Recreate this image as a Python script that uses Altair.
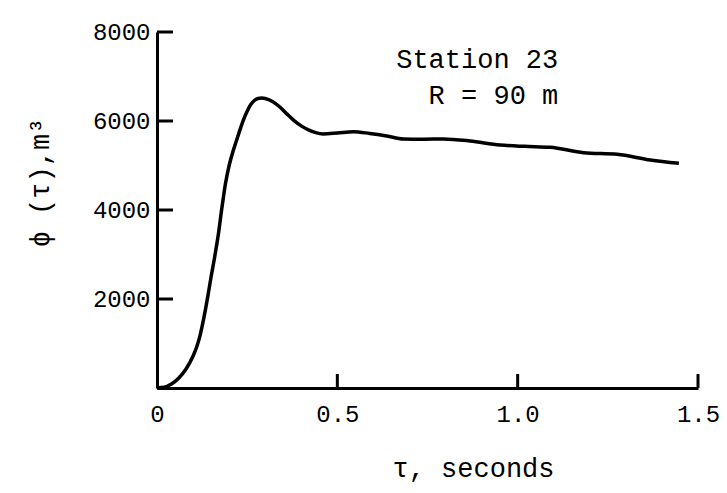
import altair as alt
import pandas as pd

# Curve
tau = [0.0, 0.02, 0.04, 0.06, 0.08, 0.10, 0.11, 0.12, 0.13, 0.14, 0.15, 0.16, 0.17,
       0.18, 0.19, 0.20, 0.21, 0.22, 0.23, 0.24, 0.25, 0.26, 0.27, 0.28, 0.29,
       0.30, 0.32, 0.34, 0.36, 0.38, 0.40, 0.42, 0.44, 0.46, 0.50, 0.544, 0.59,
       0.637, 0.683, 0.74, 0.794, 0.868, 0.951, 1.02, 1.09, 1.183, 1.276, 1.368, 1.447]
phi = [0, 15, 90, 220, 420, 720, 920, 1200, 1580, 2020, 2500, 2950, 3450,
       4050, 4600, 5000, 5300, 5550, 5800, 6030, 6220, 6370, 6460, 6505, 6515,
       6505, 6440, 6320, 6160, 6010, 5890, 5800, 5740, 5710, 5730, 5760, 5720,
       5663, 5595, 5590, 5596, 5551, 5461, 5430, 5409, 5288, 5252, 5124, 5049]

x_ticks = [0, 0.5, 1.0, 1.5]
y_ticks = [2000, 4000, 6000, 8000]

notes = ["Station 23", "R = 90 m"]
note_tau = [1.1125, 1.1125]
note_phi = [7360, 6562]

FONT = "Liberation Mono"
W, H = 541, 356

curve = pd.DataFrame({"tau": tau, "phi": phi})
xt = pd.DataFrame({"t": x_ticks[1:]})
yt = pd.DataFrame({"p": y_ticks})
nt = pd.DataFrame({"text": notes, "tau": note_tau, "phi": note_phi})

xscale = alt.Scale(domain=[0, 1.5], nice=False, zero=False)
yscale = alt.Scale(domain=[0, 8000], nice=False)

xaxis = alt.Axis(values=x_ticks, title="τ, seconds", grid=False, ticks=False, tickSize=0,
                 labelExpr="datum.value == 0 ? '0' : format(datum.value, '.1f')",
                 labelFont=FONT, labelFontSize=24, labelColor="black",
                 labelPadding=26, labelBaseline="middle", labelFlush=False,
                 domainColor="black", domainWidth=3,
                 titleFont=FONT, titleFontSize=27, titleFontWeight="normal", titleColor="black",
                 titleX=316, titleY=80, titleBaseline="middle", titleAlign="center")
yaxis = alt.Axis(values=y_ticks, title="ϕ (τ),m³", grid=False, ticks=False, tickSize=0,
                 format="d",
                 labelFont=FONT, labelFontSize=24, labelColor="black",
                 labelPadding=7, labelAlign="right", labelBaseline="middle", labelFlush=False,
                 domainColor="black", domainWidth=3,
                 titleFont=FONT, titleFontSize=27, titleFontWeight="normal", titleColor="black",
                 titleX=-117, titleY=150, titleBaseline="middle", titleAlign="center", titleAngle=-90)

line = alt.Chart(curve).mark_line(color="black", strokeWidth=3.5, interpolate="monotone").encode(
    x=alt.X("tau:Q", scale=xscale, axis=xaxis),
    y=alt.Y("phi:Q", scale=yscale, axis=yaxis),
)

xtick_marks = alt.Chart(xt).mark_rule(color="black", strokeWidth=3).encode(
    x=alt.X("t:Q", scale=xscale), y=alt.value(H), y2=alt.value(H - 14)
)
ytick_marks = alt.Chart(yt).mark_rule(color="black", strokeWidth=3).encode(
    y=alt.Y("p:Q", scale=yscale), x=alt.value(0), x2=alt.value(16)
)

text = alt.Chart(nt).mark_text(font=FONT, fontSize=27, color="black", align="right",
                               baseline="middle").encode(
    x=alt.X("tau:Q", scale=xscale), y=alt.Y("phi:Q", scale=yscale), text="text:N"
)

chart = alt.layer(line, xtick_marks, ytick_marks, text).properties(
    width=W, height=H,
    autosize=alt.AutoSizeParams(type="none"),
    padding={"left": 157, "top": 32, "right": 29, "bottom": 105},
    background="white",
).configure_view(stroke=None)

chart.save("out.html", embed_options={"renderer": "svg", "actions": False})
